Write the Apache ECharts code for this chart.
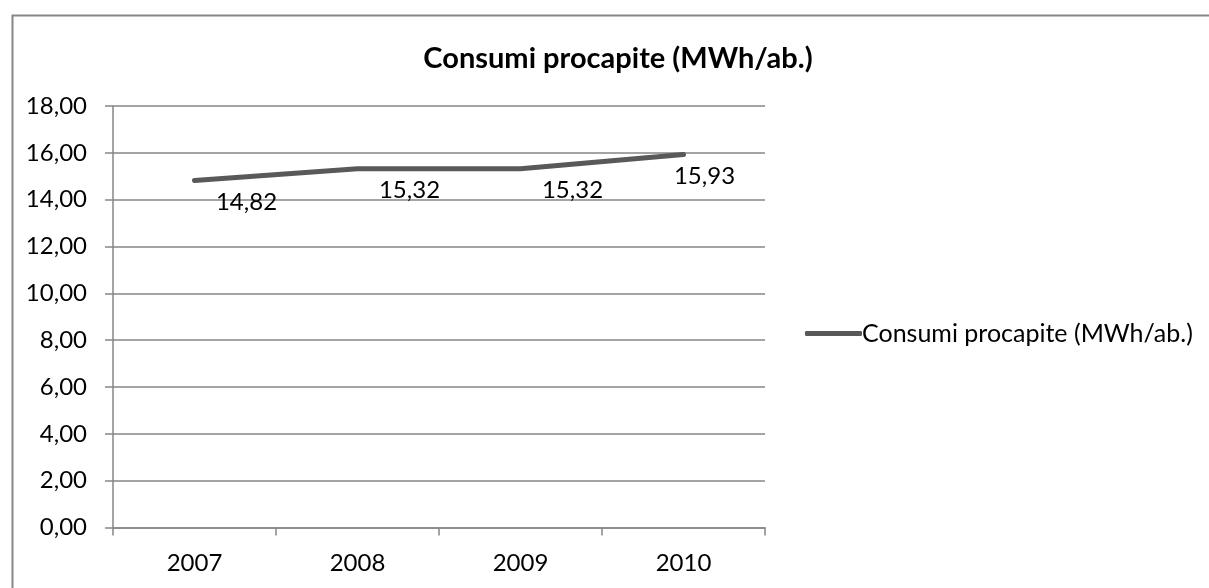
<!DOCTYPE html>
<html>
<head>
<meta charset="utf-8">
<script src="https://cdn.jsdelivr.net/npm/echarts@6/dist/echarts.min.js"></script>
<style>
  html, body { margin: 0; padding: 0; background: #ffffff; }
  #chart { width: 1209px; height: 588px; }
</style>
</head>
<body>
<div id="chart"></div>
<script>
// Per-capita electricity consumption, 2007-2010
const years = ['2007', '2008', '2009', '2010'];
const consumi = [14.82, 15.32, 15.32, 15.93];
const seriesName = 'Consumi procapite (MWh/ab.)';
const titleText = 'Consumi procapite (MWh/ab.)';

const FONT = 'Lato, "Open Sans", sans-serif';
const GREY = '#868686';
const LINE = '#595959';

const fmt = v => v.toFixed(2).replace('.', ',');

const chart = echarts.init(document.getElementById('chart'), null, { renderer: 'canvas' });

// Value labels sit below-right of each point; the last one is pulled back left.
const labelled = consumi.map((v, i) => ({
  value: v,
  label: { offset: i === consumi.length - 1 ? [21, 22] : [52, 22] }
}));

chart.setOption({
  backgroundColor: '#ffffff',
  animation: false,
  graphic: [{
    type: 'rect',
    left: 10, top: 13,
    shape: { width: 1260, height: 620 },
    style: { fill: 'none', stroke: GREY, lineWidth: 2 },
    silent: true
  }],
  title: {
    text: titleText,
    left: 613, top: 39,
    textAlign: 'center',
    textStyle: { fontFamily: FONT, fontWeight: 'bold', fontSize: 29, color: '#000000' }
  },
  legend: {
    data: [seriesName],
    left: 800, top: 316,
    itemWidth: 57, itemHeight: 5, itemGap: 0,
    icon: 'roundRect',
    textStyle: { fontFamily: FONT, fontSize: 25, color: '#000000', padding: [0, 0, 0, -5] }
  },
  grid: { left: 113, top: 106, width: 652, height: 421.5, containLabel: false },
  xAxis: {
    type: 'category',
    data: years,
    boundaryGap: true,
    axisLine: { show: true, lineStyle: { color: GREY, width: 1.5 } },
    axisTick: { show: true, length: 8, alignWithLabel: false, lineStyle: { color: GREY, width: 1.5 } },
    axisLabel: { margin: 24, fontFamily: FONT, fontSize: 24, color: '#000000' },
    splitLine: { show: false }
  },
  yAxis: {
    type: 'value',
    min: 0, max: 18, interval: 2,
    axisLine: { show: true, lineStyle: { color: GREY, width: 1.5 } },
    axisTick: { show: true, length: 8, lineStyle: { color: GREY, width: 1.5 } },
    axisLabel: { margin: 26, fontFamily: FONT, fontSize: 24, color: '#000000', formatter: fmt },
    splitLine: { show: true, lineStyle: { color: GREY, width: 1.5 } }
  },
  series: [{
    name: seriesName,
    type: 'line',
    data: labelled,
    symbol: 'circle',
    symbolSize: 0.1,
    showSymbol: true,
    itemStyle: { color: LINE },
    lineStyle: { color: LINE, width: 5, cap: 'round', join: 'round' },
    label: {
      show: true,
      position: 'inside',
      formatter: p => fmt(p.value),
      fontFamily: FONT, fontSize: 24, color: '#000000'
    }
  }]
});
</script>
</body>
</html>
